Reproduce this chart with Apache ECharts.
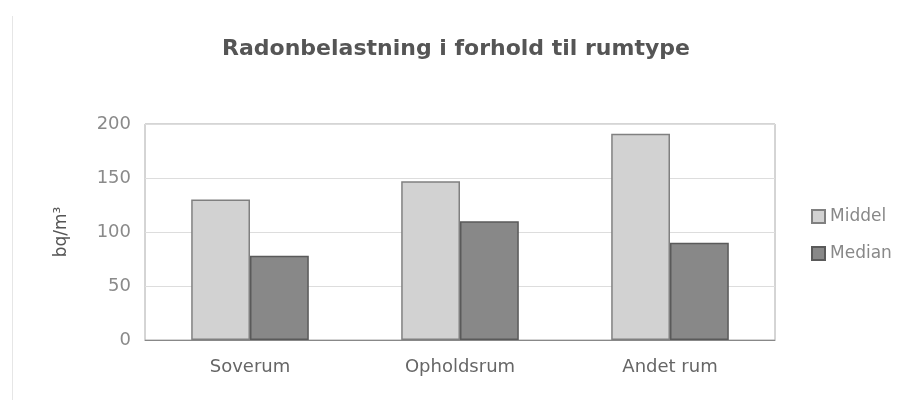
<!DOCTYPE html>
<html><head><meta charset="utf-8">
<script src="https://cdn.jsdelivr.net/npm/echarts@6/dist/echarts.min.js"></script>
<style>html,body{margin:0;padding:0;background:#fff}#c{width:912px;height:413px}</style>
</head><body><div id="c"></div>
<script>
const categories = ['Soverum', 'Opholdsrum', 'Andet rum'];
const middel = [130, 147, 191];
const median = [78, 110, 90];
const yTicks = [0, 50, 100, 150, 200];

const FONT = 'DejaVu Sans';
const chart = echarts.init(document.getElementById('c'), null, {renderer: 'canvas'});
chart.setOption({
  backgroundColor: '#fff',
  animation: false,
  title: {
    text: 'Radonbelastning i forhold til rumtype',
    left: 'center', top: 33,
    textStyle: {fontFamily: FONT, fontSize: 22, fontWeight: 'bold', color: '#555'}
  },
  graphic: [{
    type: 'line', shape: {x1: 12.5, y1: 16, x2: 12.5, y2: 400},
    style: {stroke: '#e6e6e6', lineWidth: 1}, silent: true
  }],
  legend: {
    orient: 'vertical', left: 806, top: 203, itemWidth: 13, itemHeight: 13, itemGap: 20,
    icon: 'rect',
    textStyle: {fontFamily: FONT, fontSize: 17, color: '#888', padding: [0, 0, 6, 0]},
    data: ['Middel', 'Median']
  },
  grid: {left: 145, right: 137, top: 124, bottom: 73, show: true, borderColor: '#aaa', borderWidth: 1},
  xAxis: {
    type: 'category', data: categories,
    axisLine: {lineStyle: {color: '#888'}},
    axisTick: {show: false},
    axisLabel: {fontFamily: FONT, fontSize: 18, color: '#666', margin: 18}
  },
  yAxis: {
    type: 'value', min: yTicks[0], max: yTicks[yTicks.length - 1], interval: 50,
    name: 'bq/m³', nameLocation: 'middle', nameGap: 75, nameRotate: 90,
    nameTextStyle: {fontFamily: FONT, fontSize: 17, color: '#555'},
    axisLine: {show: false}, axisTick: {show: false},
    axisLabel: {fontFamily: FONT, fontSize: 18, color: '#8a8a8a', margin: 14},
    splitLine: {lineStyle: {color: '#ddd'}}
  },
  series: [
    {name: 'Middel', type: 'bar', data: middel, barGap: '0%', barCategoryGap: '44%',
     itemStyle: {color: '#d2d2d2', borderColor: '#808080', borderWidth: 1.5}},
    {name: 'Median', type: 'bar', data: median,
     itemStyle: {color: '#888888', borderColor: '#5a5a5a', borderWidth: 1.5}}
  ]
});
</script></body></html>
